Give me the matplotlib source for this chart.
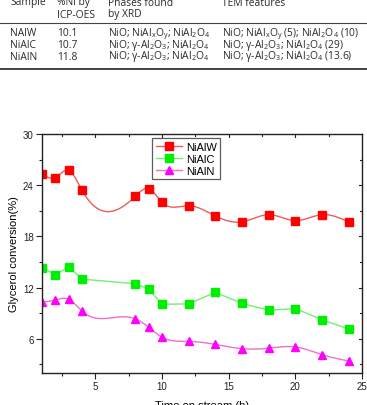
import matplotlib.pyplot as plt
import numpy as np

plt.rcParams['mathtext.default'] = 'regular'
plt.rcParams['mathtext.fontset'] = 'custom'
plt.rcParams['mathtext.rm'] = 'Open Sans'
plt.rcParams['mathtext.it'] = 'Open Sans:italic'

# table at the top (cropped from the paper)
table_header1 = ['Sample', '%Ni by', 'Phases found', 'TEM features']
table_header2 = ['', 'ICP-OES', 'by XRD', '']
table_samples = ['NAlW', 'NiAlC', 'NiAlN']
table_ni = ['10.1', '10.7', '11.8']
table_xrd = ['NiO; NiAl$_x$O$_y$; NiAl$_2$O$_4$',
             'NiO; γ-Al$_2$O$_3$; NiAl$_2$O$_4$',
             'NiO; γ-Al$_2$O$_3$; NiAl$_2$O$_4$']
table_tem = ['NiO; NiAl$_x$O$_y$ (5); NiAl$_2$O$_4$ (10)',
             'NiO; γ-Al$_2$O$_3$; NiAl$_2$O$_4$ (29)',
             'NiO; γ-Al$_2$O$_3$; NiAl$_2$O$_4$ (13.6)']

# chart data
time_h = [1, 2, 3, 4, 8, 9, 10, 12, 14, 16, 18, 20, 22, 24]
nialw = [25.3, 24.9, 25.75, 23.4, 22.7, 23.6, 22.0, 21.6, 20.4, 19.7, 20.55, 19.85, 20.55, 19.7]
nialc = [14.35, 13.5, 14.45, 13.0, 12.45, 11.85, 10.05, 10.1, 11.45, 10.15, 9.35, 9.55, 8.25, 7.15]
nialn = [10.3, 10.55, 10.65, 9.25, 8.35, 7.35, 6.2, 5.7, 5.35, 4.85, 4.9, 5.05, 4.15, 3.4]


def natural_spline(x, y, n=400):
    x = np.asarray(x, float)
    y = np.asarray(y, float)
    k = len(x)
    h = np.diff(x)
    A = np.zeros((k, k))
    b = np.zeros(k)
    A[0, 0] = A[-1, -1] = 1
    for i in range(1, k - 1):
        A[i, i - 1] = h[i - 1]
        A[i, i] = 2 * (h[i - 1] + h[i])
        A[i, i + 1] = h[i]
        b[i] = 3 * ((y[i + 1] - y[i]) / h[i] - (y[i] - y[i - 1]) / h[i - 1])
    c = np.linalg.solve(A, b)
    xs = np.linspace(x[0], x[-1], n)
    idx = np.clip(np.searchsorted(x, xs) - 1, 0, k - 2)
    dx = xs - x[idx]
    hh = h[idx]
    bb = (y[idx + 1] - y[idx]) / hh - hh * (2 * c[idx] + c[idx + 1]) / 3
    dd = (c[idx + 1] - c[idx]) / (3 * hh)
    ys = y[idx] + bb * dx + c[idx] * dx ** 2 + dd * dx ** 3
    return xs, ys


fig = plt.figure(figsize=(3.67, 4.06), dpi=100)

# table drawn in figure coords
tfont = dict(family='Open Sans', fontsize=7.4, color='#2a2a2a', va='center')
cols = [10 / 367, 57 / 367, 108 / 367, 222 / 367]
for j, txt in enumerate(table_header1):
    fig.text(cols[j], 1 - 3 / 406, txt, **tfont)
for j, txt in enumerate(table_header2):
    fig.text(cols[j], 1 - 15 / 406, txt, **tfont)
row_y = [34, 45.5, 57]
for i in range(3):
    fig.text(cols[0], 1 - row_y[i] / 406, table_samples[i], **tfont)
    fig.text(cols[1], 1 - row_y[i] / 406, table_ni[i], **tfont)
    fig.text(cols[2], 1 - row_y[i] / 406, table_xrd[i], **tfont)
    fig.text(cols[3], 1 - row_y[i] / 406, table_tem[i], **tfont)
fig.add_artist(plt.Line2D([0, 1], [1 - 23.5 / 406] * 2, color='#444444', lw=0.8))
fig.add_artist(plt.Line2D([0, 1], [1 - 69.5 / 406] * 2, color='#444444', lw=1.4))

ax = fig.add_axes([42 / 367, 1 - 374 / 406, 320 / 367, 239 / 406])

series = [
    ('NiAlW', nialw, 's', '#ff0000', '#f05a5a', True),
    ('NiAlC', nialc, 's', '#00ee00', '#70f070', False),
    ('NiAlN', nialn, '^', '#ff00ff', '#f070c8', True),
]
for name, vals, mk, mcol, lcol, smooth in series:
    if smooth:
        xs, ys = natural_spline(time_h, vals)
    else:
        xs, ys = time_h, vals
    ax.plot(xs, ys, color=lcol, lw=1.0)
    ax.plot(time_h, vals, linestyle='none', marker=mk, markersize=5.5,
            color=mcol, markeredgecolor=mcol)
    ax.plot([], [], color=lcol, lw=1.0, marker=mk, markersize=5.5,
            markerfacecolor=mcol, markeredgecolor=mcol, label=name)

ax.set_xlim(1, 25)
ax.set_ylim(2, 30)
ax.set_xticks([5, 10, 15, 20, 25])
ax.set_xticks(np.arange(2.5, 25, 5), minor=True)
ax.set_yticks([6, 12, 18, 24, 30])
ax.set_yticks([3, 9, 15, 21, 27], minor=True)

lab = dict(family='Liberation Sans')
for t in ax.get_xticklabels() + ax.get_yticklabels():
    t.set_fontfamily('Liberation Sans')
ax.tick_params(which='both', labelsize=7, width=0.8, color='#222222', labelcolor='#222222', pad=2)
ax.tick_params(which='major', length=4)
ax.tick_params(which='minor', length=2.5)
ax.tick_params(which='both', direction='out', top=False, right=False)

for s in ax.spines.values():
    s.set_linewidth(1.0)
    s.set_color('#222222')

# mirrored inward ticks on top/right
for xv in [5, 10, 15, 20]:
    ax.plot([xv, xv], [30, 29.6], color='#222222', lw=0.8, clip_on=False)
for xv in [2.5, 7.5, 12.5, 17.5, 22.5]:
    ax.plot([xv, xv], [30, 29.75], color='#222222', lw=0.8, clip_on=False)
for yv in [6, 12, 18, 24]:
    ax.plot([25, 24.75], [yv, yv], color='#222222', lw=0.8, clip_on=False)
for yv in [3, 9, 15, 21, 27]:
    ax.plot([25, 24.85], [yv, yv], color='#222222', lw=0.8, clip_on=False)

ax.set_xlabel('Time on stream (h)', fontsize=8, labelpad=6, **lab)
ax.set_ylabel('Glycerol conversion(%)', fontsize=8, labelpad=3, **lab)

leg = ax.legend(loc='upper left', bbox_to_anchor=(0.345, 0.982),
                frameon=True, fancybox=False, borderpad=0.3, labelspacing=0.2,
                handlelength=2.4, handletextpad=0.3, borderaxespad=0,
                prop={'family': 'Liberation Sans', 'size': 8})
leg.get_frame().set_edgecolor('#333333')
leg.get_frame().set_linewidth(0.9)

fig.savefig('out.png', dpi=100)
